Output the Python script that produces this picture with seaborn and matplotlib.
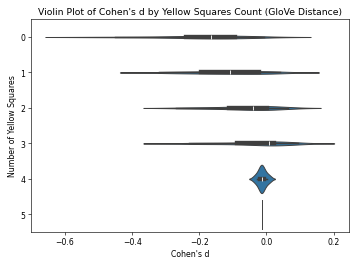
import matplotlib
matplotlib.use("Agg")
import matplotlib.pyplot as plt
import numpy as np
import pandas as pd
import seaborn as sns

# Cohen's d values per yellow-square count
d_0 = [-0.52, -0.45, -0.38, -0.32, -0.28, -0.25, -0.235, -0.22, -0.21, -0.195, -0.18, -0.17,
       -0.16, -0.15, -0.135, -0.12, -0.105, -0.095, -0.085, -0.075, -0.06, -0.045, -0.025, -0.007]
d_1 = [-0.32, -0.30, -0.275, -0.25, -0.23, -0.21, -0.19, -0.175, -0.16, -0.145, -0.13, -0.115,
       -0.10, -0.085, -0.07, -0.055, -0.04, -0.025, -0.01, 0.0, 0.01, 0.02, 0.03, 0.04]
d_2 = [-0.27, -0.235, -0.20, -0.17, -0.145, -0.125, -0.105, -0.093, -0.08, -0.068, -0.056, -0.046,
       -0.036, -0.028, -0.02, -0.012, -0.005, 0.0, 0.008, 0.018, 0.03, 0.042, 0.054, 0.065]
d_3 = [-0.26, -0.23, -0.20, -0.17, -0.14, -0.11, -0.08, -0.06, -0.04, -0.02, -0.005, 0.005,
       0.012, 0.014, 0.016, 0.018, 0.02, 0.021, 0.03, 0.045, 0.06, 0.07, 0.085, 0.095]
d_4 = [-0.036, -0.028, -0.022, -0.018, -0.016, -0.014, -0.014, -0.012, -0.01, -0.004, 0.002, 0.01]
d_5 = [-0.014]

groups = {0: d_0, 1: d_1, 2: d_2, 3: d_3, 4: d_4, 5: d_5}

rows = []
for count, vals in groups.items():
    for v in vals:
        rows.append({"Yellow Squares": count, "Cohen's d": v})
df = pd.DataFrame(rows)

fig = plt.figure(figsize=(6.4, 4.8), dpi=357 / 6.4)
sns.violinplot(data=df, x="Cohen's d", y="Yellow Squares", orient="h")
plt.title("Violin Plot of Cohen's d by Yellow Squares Count (GloVe Distance)")
plt.xlabel("Cohen's d")
plt.ylabel("Number of Yellow Squares")
plt.tight_layout()
plt.savefig("out.png")
